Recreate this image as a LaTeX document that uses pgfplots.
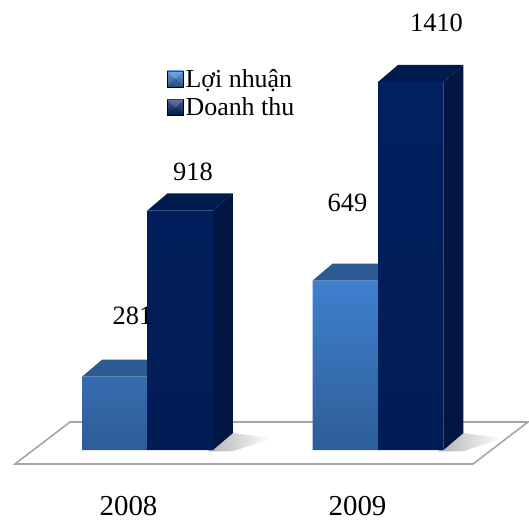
\documentclass[border=0pt]{standalone}
\usepackage{fontspec}
\setmainfont{Liberation Serif}
\usepackage{pgfplots}
\usepackage{pgfplotstable}
\pgfplotsset{compat=1.18}

\definecolor{loiFrontTop}{HTML}{3F80CE}
\definecolor{loiFrontBot}{HTML}{2E5D98}
\definecolor{loiTop}{HTML}{2C5A92}
\definecolor{dtFront}{HTML}{01205F}
\definecolor{dtFrontBot}{HTML}{011D57}
\definecolor{dtSide}{HTML}{011640}
\definecolor{dtTop}{HTML}{011A4E}
\definecolor{floorLine}{HTML}{A6A6A6}

% values per year, with the offsets (bp) of each value label
% from the top of its year's category centre
\pgfplotstableread{
x  loi  dt    loidx loidy dtdx dtdy
0  281  918   -15   61    45.5 39
1  649  1410  -30.5 78    58.5 59
}\datatable

% corners of the faces of a prism: sx = side of the half width,
% d = one step of depth, h = fraction of the bar height
\pgfplotstableread{
sx d h
-1 0 1
1  0 1
1  1 1
-1 1 1
}\topface
\pgfplotstableread{
sx d h
1 0 0
1 0 1
1 1 1
1 1 0
}\sideface
% soft shadow cast beside each group (offsets from the group centre)
\pgfplotstableread{
ox   oy
0.26 -5
0.37 -5
0.54 45
0.37 65
}\shadowface

\def\bw{0.284}   % bar width (axis units)
\def\dx{0.0868}  % depth step along x
\def\dy{65.1}    % depth step along y

\begin{document}
\begin{tikzpicture}
\begin{axis}[
  scale only axis, width=529bp, height=521bp,
  xmin=-0.6399, xmax=1.6551, ymin=-272, ymax=1724,
  hide axis, clip=false,
  xtick=\empty, ytick=\empty,
  /pgf/number format/1000 sep={},
  /pgf/number format/assume math mode=true,
  legend image code/.code={
    \shade[#1] (0bp,-8bp) rectangle (16bp,8bp);
    \fill[white, opacity=0.22] (0bp,8bp) -- (16bp,8bp) -- (8bp,0bp) -- cycle;
    \fill[black, opacity=0.18] (0bp,-8bp) -- (16bp,-8bp) -- (8bp,0bp) -- cycle;
  },
  legend style={at={(axis cs:0.0846,1468)}, anchor=north west,
    draw=none, fill=none, inner sep=0pt,
    font=\fontsize{26}{28}\selectfont,
    nodes={inner sep=2bp}, row sep=5bp},
  legend cell align=left,
]
% floor
\addplot[forget plot, draw=floorLine, line width=1.6bp, fill=white]
  coordinates {(-0.5748,-53.6) (1.4122,-53.6) (1.6508,107.3) (-0.3362,107.3)} -- cycle;

\pgfplotsinvokeforeach{0,1}{
  \addplot[forget plot, draw=none, left color=black!30, right color=white]
    table[x expr={#1+\thisrow{ox}}, y expr={\thisrow{oy}}] {\shadowface} -- cycle;
}

% Loi nhuan: top faces, then fronts
\pgfplotsinvokeforeach{0,1}{
  \pgfplotstablegetelem{#1}{loi}\of\datatable
  \let\vLoi\pgfplotsretval
  \addplot[forget plot, draw=none, fill=loiTop]
    table[x expr={#1-\bw/2+\thisrow{sx}*\bw/2+\thisrow{d}*\dx},
          y expr={\thisrow{h}*\vLoi+\thisrow{d}*\dy}] {\topface} -- cycle;
}
\addplot[forget plot, ybar, bar width=0.284, bar shift=-0.142, draw=none,
  top color=loiFrontTop, bottom color=loiFrontBot,
  visualization depends on={\thisrow{loidx} \as \ldx},
  visualization depends on={\thisrow{loidy} \as \ldy},
  nodes near coords,
  nodes near coords style={anchor=center, xshift=\ldx bp, yshift=\ldy bp,
    text=black, font=\fontsize{26.5}{30}\selectfont}]
  table[x=x, y=loi] {\datatable};

% Doanh thu: side and top faces, then fronts
\pgfplotsinvokeforeach{0,1}{
  \pgfplotstablegetelem{#1}{dt}\of\datatable
  \let\vDt\pgfplotsretval
  \addplot[forget plot, draw=none, fill=dtSide]
    table[x expr={#1+\bw/2+\thisrow{sx}*\bw/2+\thisrow{d}*\dx},
          y expr={\thisrow{h}*\vDt+\thisrow{d}*\dy}] {\sideface} -- cycle;
  \addplot[forget plot, draw=none, fill=dtTop]
    table[x expr={#1+\bw/2+\thisrow{sx}*\bw/2+\thisrow{d}*\dx},
          y expr={\thisrow{h}*\vDt+\thisrow{d}*\dy}] {\topface} -- cycle;
}
\addplot[forget plot, ybar, bar width=0.284, bar shift=0.142, draw=none,
  top color=dtFront, bottom color=dtFrontBot,
  visualization depends on={\thisrow{dtdx} \as \ddx},
  visualization depends on={\thisrow{dtdy} \as \ddy},
  nodes near coords,
  nodes near coords style={anchor=center, xshift=\ddx bp, yshift=\ddy bp,
    text=black, font=\fontsize{26.5}{30}\selectfont}]
  table[x=x, y=dt] {\datatable};

% category labels under the floor
\node[font=\fontsize{29}{32}\selectfont, anchor=base, inner sep=0pt]
  at (axis cs:-0.0824,-250) {2008};
\node[font=\fontsize{29}{32}\selectfont, anchor=base, inner sep=0pt]
  at (axis cs:0.9111,-250) {2009};

\addlegendimage{top color=loiFrontTop!85!white, bottom color=loiFrontBot}
\addlegendentry{Lợi nhuận}
\addlegendimage{top color=dtFront!75!white, bottom color=dtFront}
\addlegendentry{Doanh thu}

\path (rel axis cs:0,0) rectangle (rel axis cs:1,1);
\end{axis}
\end{tikzpicture}
\end{document}
